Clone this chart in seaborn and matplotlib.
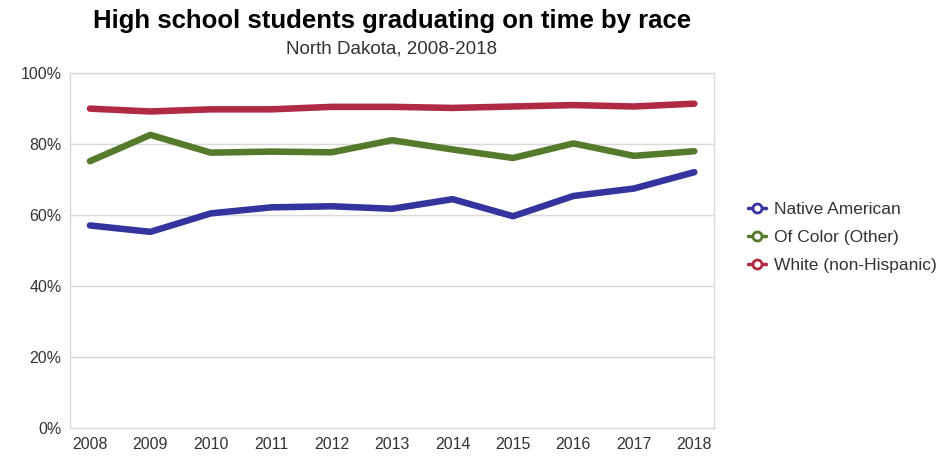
import pandas as pd
import matplotlib.pyplot as plt
import seaborn as sns
from matplotlib.lines import Line2D
from matplotlib.ticker import FuncFormatter

years = [2008, 2009, 2010, 2011, 2012, 2013, 2014, 2015, 2016, 2017, 2018]
native_american = [57.1, 55.3, 60.5, 62.2, 62.5, 61.8, 64.5, 59.7, 65.4, 67.5, 72.1]
of_color = [75.2, 82.6, 77.6, 77.9, 77.7, 81.1, 78.5, 76.1, 80.2, 76.7, 78.0]
white = [90.0, 89.2, 89.8, 89.8, 90.5, 90.5, 90.2, 90.6, 91.0, 90.6, 91.4]

groups = ['Native American', 'Of Color (Other)', 'White (non-Hispanic)']
colors = ['#34349e', '#567a2c', '#b12a43']

df = pd.DataFrame({
    'year': years * 3,
    'rate': native_american + of_color + white,
    'group': [g for g in groups for _ in years],
})

sns.set_style('white')
plt.rcParams['font.family'] = ['Liberation Sans', 'DejaVu Sans']

fig = plt.figure(figsize=(9.46, 4.57), dpi=100)
ax = fig.add_axes([0.074, 0.063, 0.681, 0.777])

sns.lineplot(data=df, x='year', y='rate', hue='group', palette=colors,
             hue_order=groups, linewidth=4.7, legend=False, ax=ax,
             solid_capstyle='round', solid_joinstyle='round')

ax.set_xlim(2007.67, 2018.33)
ax.set_ylim(0, 100)
ax.set_xticks(years)
ax.set_yticks([0, 20, 40, 60, 80, 100])
ax.yaxis.set_major_formatter(FuncFormatter(lambda v, p: '%d%%' % v))
ax.grid(axis='y', color='#d9d9d9', linewidth=1)
for s in ax.spines.values():
    s.set_color('#d9d9d9')
    s.set_linewidth(1)
ax.tick_params(axis='both', labelsize=11.5, colors='#333333', length=0, pad=6)
ax.set_xlabel('')
ax.set_ylabel('')

# Titles
fig.text(0.414, 0.955, 'High school students graduating on time by race',
         ha='center', va='center', fontsize=18.5, fontweight='bold', color='black')
fig.text(0.414, 0.893, 'North Dakota, 2008-2018',
         ha='center', va='center', fontsize=13.5, color='#333333')

handles = [Line2D([0], [0], color=c, linewidth=2.5, marker='o', markersize=6.5,
                  markerfacecolor='white', markeredgecolor=c, markeredgewidth=2)
           for c in colors]
fig.legend(handles, groups, loc='center left', bbox_to_anchor=(0.791, 0.481),
           frameon=False, fontsize=12.5, handlelength=1.0, handletextpad=0.5,
           labelspacing=0.75, labelcolor='#333333', borderaxespad=0, borderpad=0)

plt.savefig('out.png', dpi=100)
